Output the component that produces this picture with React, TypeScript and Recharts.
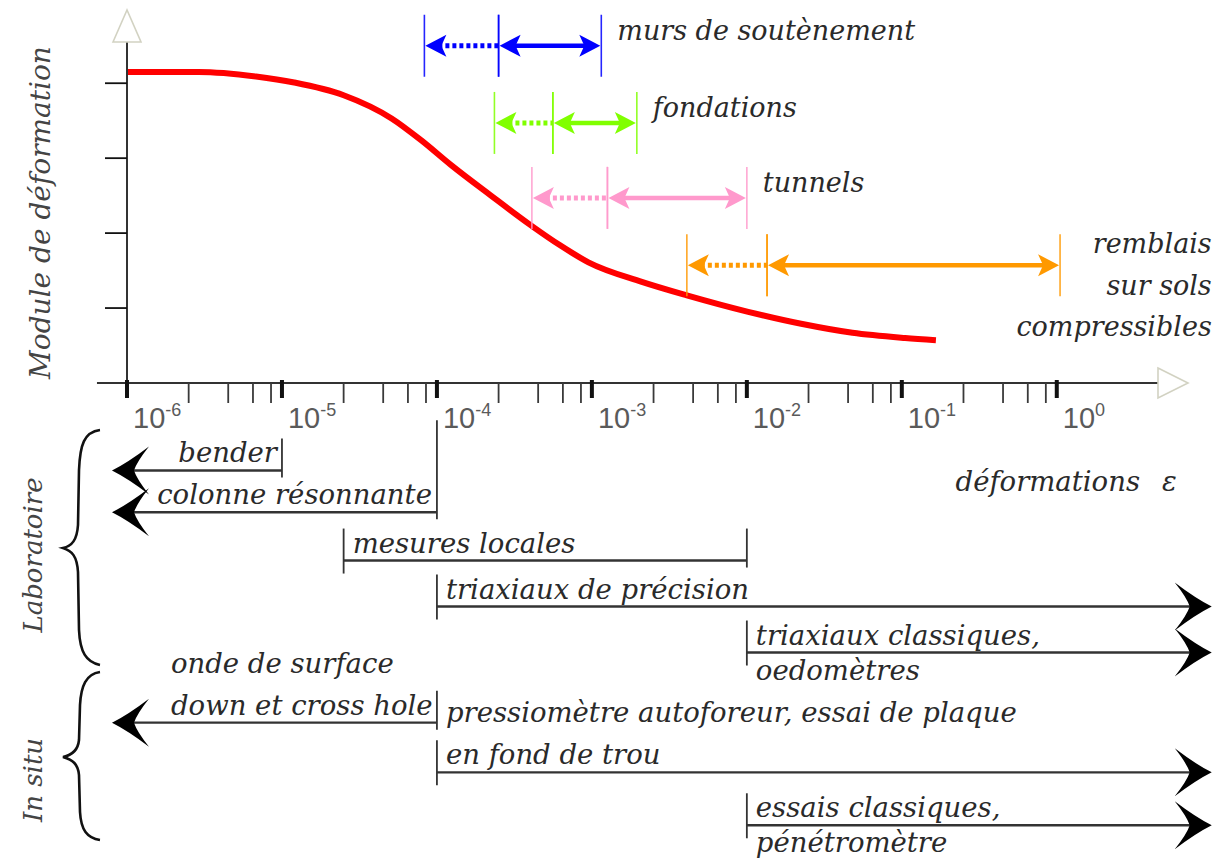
import React from "react";
import {
  ComposedChart,
  Line,
  XAxis,
  YAxis,
  ReferenceLine,
  ReferenceDot,
  Label,
} from "recharts";

// ---- strain axis (log scale) ----
const STRAIN_MIN = 1e-6;
const STRAIN_MAX = 4.5;
const AXIS_START = 6.4e-7; // the axis line runs a little left of 10^-6
const OPEN_LOW = 8e-7; // "and smaller" arrows point down to here
const OPEN_HIGH = 10; // "and larger" arrows point up to here

const decadeExponents = [-6, -5, -4, -3, -2, -1, 0];
const minorFactors = [2.5, 4.5, 6.5, 8.5];

// ---- modulus axis ----
const modulusTicks = [1, 2, 3, 4];
const MODULUS_MAX = 4.55;

// module de déformation vs déformation
const curveStrain = [
  1e-6, 2.9e-6, 6.8e-6, 1.2e-5, 2.5e-5, 5.1e-5, 7.9e-5, 1.23e-4, 2.2e-4, 4e-4,
  6.2e-4, 9.5e-4, 2.1e-3, 4.1e-3, 1.02e-2, 2.24e-2, 4.8e-2, 0.105, 0.166,
];
const curveModulus = [
  4.15, 4.15, 4.09, 4.01, 3.84, 3.53, 3.24, 2.91, 2.51, 2.11, 1.84, 1.61, 1.35,
  1.17, 0.95, 0.79, 0.67, 0.6, 0.57,
];

// ouvrages : plage pointillée (from -> mid) puis plage pleine (mid -> to)
const worksLabels = [
  ["murs de soutènement"],
  ["fondations"],
  ["tunnels"],
  ["remblais", "sur sols", "compressibles"],
];
const worksFrom = [8.3e-5, 2.35e-4, 4.1e-4, 4.1e-3];
const worksMid = [2.5e-4, 5.6e-4, 1.26e-3, 1.35e-2];
const worksTo = [1.15e-3, 1.95e-3, 1e-2, 1.05];
const worksLevel = [4.5, 3.47, 2.47, 1.57];
const worksColors = ["#0000ff", "#80ff00", "#ff99cc", "#ff9900"];

// essais : domaines de mesure
const testAbove = [
  ["bender"],
  ["colonne résonnante"],
  ["mesures locales"],
  ["triaxiaux de précision"],
  ["triaxiaux classiques,"],
  ["onde de surface", "down et cross hole"],
  ["pressiomètre autoforeur, essai de plaque", "en fond de trou"],
  ["essais classiques,"],
];
const testBelow = [[], [], [], [], ["oedomètres"], [], [], ["pénétromètre"]];
const testFrom = [OPEN_LOW, OPEN_LOW, 2.5e-5, 1e-4, 1e-2, OPEN_LOW, 1e-4, 1e-2];
const testTo = [1e-5, 1e-4, 1e-2, OPEN_HIGH, OPEN_HIGH, 1e-4, OPEN_HIGH, OPEN_HIGH];
const testRow = [0, 0.9, 1.94, 2.93, 3.92, 5.43, 6.5, 7.64];

const SERIF = "'DejaVu Serif', serif";
const SANS = "'Liberation Sans', Arial, sans-serif";
const INK = "#2a2a2a";

const curveData = curveStrain.map((s, i) => ({ strain: s, modulus: curveModulus[i] }));
const testData = testRow.flatMap((r, i) => [
  { strain: Math.max(testFrom[i], STRAIN_MIN), row: r },
  { strain: Math.min(testTo[i], STRAIN_MAX), row: r },
]);

const strainTicks = decadeExponents.flatMap((e) => {
  const d = Math.pow(10, e);
  return e < 0 ? [d, ...minorFactors.map((f) => d * f)] : [d];
});

function StrainTick(props: any) {
  const { x, y, payload } = props;
  const lg = Math.log10(payload.value);
  const e = Math.round(lg);
  if (Math.abs(lg - e) > 1e-6) {
    return <line x1={x} x2={x} y1={y} y2={y + 20} stroke="#3a3a3a" strokeWidth={1.8} />;
  }
  return (
    <g>
      <line x1={x} x2={x} y1={y - 3} y2={y + 15} stroke="#111" strokeWidth={4} />
      <text x={x + 6} y={y + 45} fontFamily={SANS} fontSize={29} fill="#5a5a5a">
        10
        <tspan fontSize={18} dy={-12}>
          {String(e)}
        </tspan>
      </text>
    </g>
  );
}

const HiddenTick = () => <g />;

function ModulusTitle(props: any) {
  const vb = props.viewBox ?? { x: 0, y: 42, width: 127, height: 341 };
  const cx = vb.x + 40;
  const cy = vb.y + vb.height / 2;
  return (
    <text
      x={cx}
      y={cy}
      transform={`rotate(-90, ${cx}, ${cy})`}
      textAnchor="middle"
      dominantBaseline="central"
      fontFamily={SERIF}
      fontStyle="italic"
      fontSize={28}
      fill="#444"
    >
      Module de déformation
    </text>
  );
}

function StrainTitle(props: any) {
  const vb = props.viewBox ?? { x: 127, y: 383, width: 1031, height: 137 };
  const right = vb.x + vb.width;
  const base = vb.y + 108;
  return (
    <g fontFamily={SERIF} fontStyle="italic" fontSize={27.5} fill={INK}>
      <text x={right - 18} y={base} textAnchor="end">
        déformations
      </text>
      <text x={right + 4} y={base}>
        ε
      </text>
    </g>
  );
}

// filled, slightly notched head; dir -1 points left, +1 points right
function headPath(x: number, y: number, dir: number, len: number, half: number) {
  const back = x - dir * len;
  const notch = x - dir * (len - 5);
  return `M${x},${y} L${back},${y - half} L${notch},${y} L${back},${y + half} Z`;
}

function WorksSpan(props: any) {
  const { x1, y1, x2, color, dotted } = props;
  return (
    <g>
      <line x1={x1} x2={x1} y1={y1 - 31} y2={y1 + 31} stroke={color} strokeWidth={1.6} opacity={0.85} />
      <line x1={x2} x2={x2} y1={y1 - 31} y2={y1 + 31} stroke={color} strokeWidth={1.6} opacity={0.85} />
      <line
        x1={x1 + 14}
        x2={dotted ? x2 : x2 - 14}
        y1={y1}
        y2={y1}
        stroke={color}
        strokeWidth={dotted ? 5 : 4.5}
        strokeDasharray={dotted ? "4 3" : undefined}
      />
      <path d={headPath(x1 + 1, y1, -1, 21, 11)} fill={color} />
      {!dotted && <path d={headPath(x2 - 1, y1, 1, 21, 11)} fill={color} />}
    </g>
  );
}

function WorksLabel(props: any) {
  const { cx, cy, lines } = props;
  if (lines.length === 1) {
    return (
      <text x={cx + 16} y={cy - 6} fontFamily={SERIF} fontStyle="italic" fontSize={27} fill={INK}>
        {lines[0]}
      </text>
    );
  }
  return (
    <g fontFamily={SERIF} fontStyle="italic" fontSize={27} fill={INK} textAnchor="end">
      {lines.map((l: string, k: number) => (
        <text key={k} x={cx} y={cy - 12 + k * 41.5}>
          {l}
        </text>
      ))}
    </g>
  );
}

// big barbed black head used on the test ranges
function barbPath(x: number, y: number, dir: number) {
  const p = (dx: number, dy: number) => `${x - dir * dx},${y + dy}`;
  return `M${p(0, 0)} Q${p(16, -8)} ${p(37, -24)} Q${p(25, -9)} ${p(22, 0)} Q${p(25, 9)} ${p(37, 24)} Q${p(16, 8)} ${p(0, 0)} Z`;
}

function TestSpan(props: any) {
  const { x1, y1, x2, i } = props;
  const openL = testFrom[i] <= OPEN_LOW;
  const openR = testTo[i] >= OPEN_HIGH;
  const above: string[] = testAbove[i];
  const below: string[] = testBelow[i];
  const barUp = above[0] === "colonne résonnante" ? 92 : 32;
  // single captions of open-left ranges hug the end bar; stacked ones start past the arrow head
  let textX = x1 + 9;
  let anchor = "start";
  if (openL && above.length === 1) {
    textX = x2 - 5;
    anchor = "end";
  } else if (openL) {
    textX = x1 + 59;
  }
  return (
    <g>
      <line x1={openL ? x1 + 20 : x1} x2={openR ? x2 - 20 : x2} y1={y1} y2={y1} stroke="#333" strokeWidth={2.4} />
      {openL ? (
        <path d={barbPath(x1, y1, -1)} fill="#000" />
      ) : (
        <line x1={x1} x2={x1} y1={y1 - 32} y2={y1 + 13} stroke="#333" strokeWidth={1.8} />
      )}
      {openR ? (
        <path d={barbPath(x2, y1, 1)} fill="#000" />
      ) : (
        <line x1={x2} x2={x2} y1={y1 - barUp} y2={y1 + 7} stroke="#333" strokeWidth={1.8} />
      )}
      <g fontFamily={SERIF} fontStyle="italic" fontSize={27.5} fill={INK} textAnchor={anchor}>
        {above.map((l, k) => (
          <text key={`a${k}`} x={textX} y={y1 - 8 - (above.length - 1 - k) * 42}>
            {l}
          </text>
        ))}
        {below.map((l, k) => (
          <text key={`b${k}`} x={textX} y={y1 + 27 + k * 42}>
            {l}
          </text>
        ))}
      </g>
    </g>
  );
}

function ModulusChart() {
  return (
    <ComposedChart width={1215} height={520} data={curveData} margin={{ top: 42, right: 57, bottom: 0, left: 0 }}>
      <XAxis
        dataKey="strain"
        type="number"
        scale="log"
        domain={[STRAIN_MIN, STRAIN_MAX]}
        allowDataOverflow
        ticks={strainTicks}
        interval={0}
        tick={<StrainTick />}
        tickLine={false}
        axisLine={false}
        tickSize={0}
        tickMargin={0}
        height={137}
        label={<Label content={StrainTitle} />}
      />
      <YAxis
        type="number"
        domain={[0, MODULUS_MAX]}
        allowDataOverflow
        ticks={modulusTicks}
        width={127}
        tickSize={22}
        tickLine={{ stroke: "#111", strokeWidth: 1.8 }}
        axisLine={{ stroke: "#333", strokeWidth: 2 }}
        tick={<HiddenTick />}
        label={<Label content={ModulusTitle} />}
      />
      <ReferenceLine
        segment={[
          { x: AXIS_START, y: 0 },
          { x: STRAIN_MAX, y: 0 },
        ]}
        stroke="#333"
        strokeWidth={2}
        ifOverflow="visible"
      />
      <ReferenceDot
        x={STRAIN_MAX}
        y={0}
        ifOverflow="visible"
        shape={(p: any) => (
          <polygon
            points={`${p.cx},${p.cy - 15} ${p.cx + 30},${p.cy} ${p.cx},${p.cy + 15}`}
            fill="#fff"
            stroke="#d2d2c2"
            strokeWidth={1.6}
          />
        )}
      />
      <ReferenceDot
        x={STRAIN_MIN}
        y={MODULUS_MAX}
        ifOverflow="visible"
        shape={(p: any) => (
          <polygon
            points={`${p.cx - 14},${p.cy} ${p.cx},${p.cy - 32} ${p.cx + 14},${p.cy}`}
            fill="#fff"
            stroke="#d2d2c2"
            strokeWidth={1.6}
          />
        )}
      />
      <Line
        dataKey="modulus"
        type="monotone"
        stroke="#ff0000"
        strokeWidth={6}
        dot={false}
        isAnimationActive={false}
      />
      {worksLabels.map((lines, i) => (
        <ReferenceLine
          key={`d${i}`}
          segment={[
            { x: worksFrom[i], y: worksLevel[i] },
            { x: worksMid[i], y: worksLevel[i] },
          ]}
          ifOverflow="visible"
          shape={(p: any) => <WorksSpan {...p} color={worksColors[i]} dotted />}
        />
      ))}
      {worksLabels.map((lines, i) => (
        <ReferenceLine
          key={`s${i}`}
          segment={[
            { x: worksMid[i], y: worksLevel[i] },
            { x: worksTo[i], y: worksLevel[i] },
          ]}
          ifOverflow="visible"
          shape={(p: any) => <WorksSpan {...p} color={worksColors[i]} />}
        />
      ))}
      {worksLabels.map((lines, i) => (
        <ReferenceDot
          key={`l${i}`}
          x={lines.length > 1 ? OPEN_HIGH : worksTo[i]}
          y={worksLevel[i]}
          ifOverflow="visible"
          shape={(p: any) => <WorksLabel {...p} lines={lines} />}
        />
      ))}
    </ComposedChart>
  );
}

function TestsChart() {
  return (
    <ComposedChart
      width={1215}
      height={461}
      data={testData}
      margin={{ top: 24, right: 57, bottom: 19, left: 127 }}
    >
      <XAxis
        dataKey="strain"
        type="number"
        scale="log"
        domain={[STRAIN_MIN, STRAIN_MAX]}
        allowDataOverflow
        hide
      />
      <YAxis dataKey="row" type="number" domain={[-1, 8]} reversed allowDataOverflow hide width={0} />
      {testAbove.map((_, i) => (
        <ReferenceLine
          key={i}
          segment={[
            { x: testFrom[i], y: testRow[i] },
            { x: testTo[i], y: testRow[i] },
          ]}
          ifOverflow="visible"
          shape={(p: any) => <TestSpan {...p} i={i} />}
        />
      ))}
    </ComposedChart>
  );
}

function GroupBraces() {
  return (
    <svg width={1215} height={861} style={{ position: "absolute", left: 0, top: 0, pointerEvents: "none" }}>
      <path
        d="M100,430 C84,432 80,445 79,470 L78,525 C77,540 72,546 63,548 C72,551 77,556 78,572 L79,630 C80,652 86,662 100,665"
        fill="none"
        stroke="#111"
        strokeWidth={2.6}
      />
      <path
        d="M100,672 C86,674 81,686 80,705 L79,740 C78,750 73,755 63,757 C73,760 78,764 79,775 L80,812 C81,830 87,838 100,840"
        fill="none"
        stroke="#111"
        strokeWidth={2.6}
      />
      <g fontFamily={SERIF} fontStyle="italic" fontSize={26} fill="#444" textAnchor="middle">
        <text x={33} y={555} transform="rotate(-90, 33, 555)" dominantBaseline="central">
          Laboratoire
        </text>
        <text x={33} y={780} transform="rotate(-90, 33, 780)" dominantBaseline="central">
          In situ
        </text>
      </g>
    </svg>
  );
}

export default function App() {
  return (
    <div style={{ position: "absolute", left: 0, top: 0, width: 1215, height: 861, background: "#fff" }}>
      <div style={{ position: "absolute", left: 0, top: 0 }}>
        <ModulusChart />
      </div>
      <div style={{ position: "absolute", left: 0, top: 400 }}>
        <TestsChart />
      </div>
      <GroupBraces />
    </div>
  );
}
